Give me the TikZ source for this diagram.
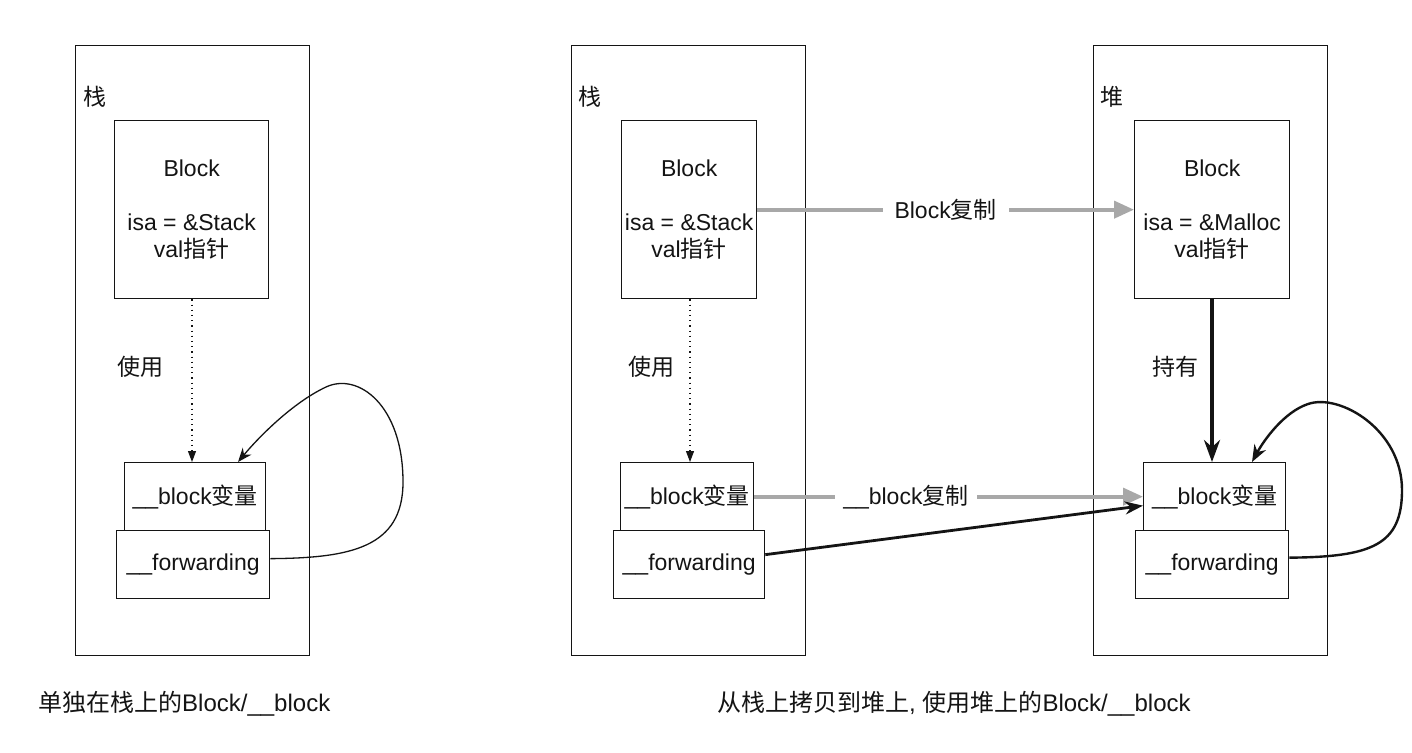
\documentclass[tikz,border=0pt]{standalone}
\usepackage{fontspec}
\setmainfont{Liberation Sans}
\newfontfamily\cjk{Noto Sans CJK SC}
\usetikzlibrary{arrows.meta}
\definecolor{grayarrow}{HTML}{A8A8A8}
\definecolor{ink}{HTML}{141414}
\begin{document}
\begin{tikzpicture}[x=1pt,y=-1pt,
  panel/.style={draw=ink, line width=1.1pt, minimum width=234pt, minimum height=610pt, anchor=north west, inner sep=0pt},
  box/.style={draw=ink, line width=1.3pt, inner sep=0pt, anchor=north west, align=center,
    font=\fontsize{23}{27}\selectfont, text=ink},
  lbl/.style={font=\fontsize{23}{27}\selectfont, text=ink, inner sep=0pt},
  captxt/.style={font=\fontsize{24}{28}\selectfont, text=ink, inner sep=0pt, anchor=west},
  grayarr/.style={draw=grayarrow, line width=4pt, -{Triangle[length=20pt,width=17pt]}},
  dotarr/.style={draw=ink, line width=1.1pt, dash pattern=on 1.2pt off 4pt, -{Triangle[length=11pt,width=8pt]}},
  thinloop/.style={draw=ink, line width=1.3pt, -{Stealth[length=14pt,width=11pt]}},
  thickarr/.style={draw=ink, line width=3.6pt, -{Stealth[length=22pt,width=16pt]}},
  midarr/.style={draw=ink, line width=2.8pt, -{Stealth[length=18pt,width=13pt]}}
]
\useasboundingbox[fill=white] (0,0) rectangle (1412,752);

% ---------- left panel ----------
\node[panel] (P1) at (75,45) {};
\node[lbl] (S1) at (95,97) {\cjk 栈};
\node[box, minimum width=154pt, minimum height=178pt] (B1) at (114,120)
  {Block\\[27pt]isa = \&Stack\\val{\cjk 指针}};
\node[box, minimum width=141pt, minimum height=68pt] (V1) at (124,462) {\_\_block{\cjk 变量}};
\node[box, minimum width=153pt, minimum height=68pt] (F1) at (116,530) {\_\_forwarding};
\node[lbl] (U1) at (140,367) {\cjk 使用};
\draw[dotarr] (B1.south -| 192,0) -- (V1.north -| 192,0);
\draw[thinloop] ([yshift=6pt]F1.east) .. controls (350,558) and (403,548) .. (403,482)
  .. controls (403,405) and (358,372) .. (326,387)
  .. controls (292,403) and (258,438) .. (V1.north -| 238,0);

% ---------- middle panel ----------
\node[panel] (P2) at (571,45) {};
\node[lbl] (S2) at (590,97) {\cjk 栈};
\node[box, minimum width=135pt, minimum height=178pt] (B2) at (621,120)
  {Block\\[27pt]isa = \&Stack\\val{\cjk 指针}};
\node[box, minimum width=133pt, minimum height=68pt] (V2) at (620,462) {\_\_block{\cjk 变量}};
\node[box, minimum width=151pt, minimum height=68pt] (F2) at (613,530) {\_\_forwarding};
\node[lbl] (U2) at (651,367) {\cjk 使用};
\draw[dotarr] (B2.south -| 690,0) -- (V2.north -| 690,0);

% ---------- right panel ----------
\node[panel] (P3) at (1093,45) {};
\node[lbl] (S3) at (1112,97) {\cjk 堆};
\node[box, minimum width=155pt, minimum height=178pt] (B3) at (1134,120)
  {Block\\[27pt]isa = \&Malloc\\val{\cjk 指针}};
\node[box, minimum width=142pt, minimum height=68pt] (V3) at (1143,462) {\_\_block{\cjk 变量}};
\node[box, minimum width=153pt, minimum height=68pt] (F3) at (1135,530) {\_\_forwarding};
\node[lbl] (H3) at (1175,367) {\cjk 持有};
\draw[thickarr] (B3.south -| 1212,0) -- (V3.north -| 1212,0);
\draw[draw=ink, line width=2.4pt, -{Stealth[length=17pt,width=13pt]}]
  ([yshift=7pt]F3.east) .. controls (1372,557) and (1402,545) .. (1402,490)
  .. controls (1402,430) and (1340,393) .. (1308,404)
  .. controls (1284,412) and (1264,440) .. (V3.north -| 1252,0);

% ---------- copy arrows ----------
\draw[grayarr] (B2.east) -- node[lbl, fill=white, inner xsep=12pt, inner ysep=4pt] (CB) {Block{\cjk 复制}} (B3.west);
\draw[grayarr] (V2.east) -- node[pos=0.39, lbl, fill=white, inner xsep=8pt, inner ysep=4pt] (CV) {\_\_block{\cjk 复制}} (V3.west);
\draw[midarr] ([yshift=10pt]F2.east) -- ([yshift=-9pt]V3.west);

% ---------- captions ----------
\node[captxt] (C1) at (38,704) {{\cjk 单独在栈上的}Block/\_\_block};
\node[captxt] (C2) at (717,704) {{\cjk 从栈上拷贝到堆上}, {\cjk 使用堆上的}Block/\_\_block};
\end{tikzpicture}
\end{document}
